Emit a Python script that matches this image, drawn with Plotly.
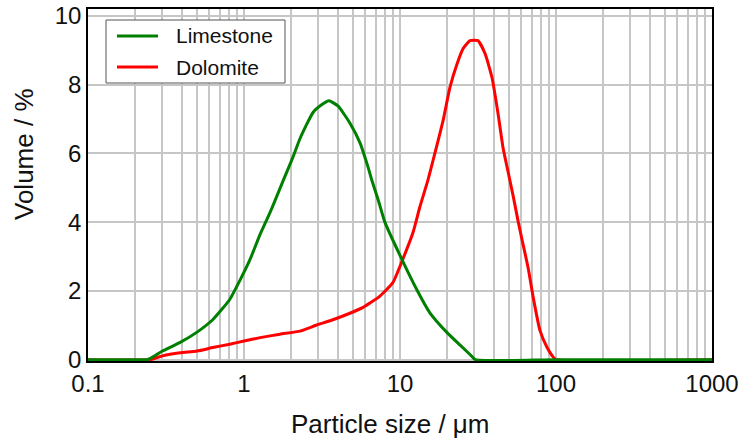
import plotly.graph_objects as go

# Particle size (µm) and volume (%)
limestone_size = [0.1, 0.2, 0.24, 0.27, 0.30, 0.39, 0.5, 0.63, 0.81, 0.94, 1.09, 1.27, 1.40, 1.51,
                  1.78, 2.06, 2.29, 2.77, 3.16, 3.5, 4.0, 4.79, 5.55, 6.24, 6.6, 7.3, 8.0, 10.3,
                  12.8, 15.5, 19.9, 24.3, 28.1, 30.4, 100, 1000]
limestone_vol = [0, 0, 0, 0.12, 0.25, 0.5, 0.8, 1.16, 1.75, 2.3, 2.9, 3.65, 4.07, 4.41,
                 5.2, 5.89, 6.44, 7.19, 7.42, 7.53, 7.38, 6.87, 6.3, 5.6, 5.22, 4.6, 4.0, 2.91,
                 2.04, 1.37, 0.8, 0.42, 0.15, 0, 0, 0]

dolomite_size = [0.1, 0.25, 0.30, 0.39, 0.5, 0.63, 0.81, 1.0, 1.27, 1.7, 2.29, 2.9, 3.56, 4.6,
                 5.8, 7.4, 9.0, 10.4, 12.1, 13.4, 15.1, 16.3, 18.9, 20.9, 23.2, 25.4, 28.1,
                 31.6, 35.1, 38.9, 42.5, 45.7, 49.1, 53.2, 57.3, 60.5, 66.4, 71.5, 78.9, 87.5,
                 95, 100, 1000]
dolomite_vol = [0, 0, 0.11, 0.2, 0.25, 0.35, 0.45, 0.54, 0.64, 0.74, 0.83, 1.0, 1.13, 1.32,
                1.52, 1.84, 2.24, 2.91, 3.69, 4.44, 5.22, 5.8, 6.96, 7.92, 8.6, 9.05, 9.28,
                9.28, 8.9, 8.2, 7.16, 6.18, 5.5, 4.75, 4.0, 3.5, 2.65, 1.8, 0.85, 0.36,
                0.1, 0, 0]

series_names = ["Limestone", "Dolomite"]
series_colors = ["#008000", "#ff0000"]

x_title = "Particle size / μm"
y_title = "Volume / %"
x_tick_vals = [0.1, 1, 10, 100, 1000]
x_tick_text = ["0.1", "1", "10", "100", "1000"]
y_tick_vals = [0, 2, 4, 6, 8, 10]

minor_vals = [m * 10 ** k for k in range(-1, 3) for m in range(2, 10)]

FONT = "Liberation Sans, Arial, sans-serif"
GRID = "#c6c6c6"
TXT = "#111111"

# plot area in pixels (for placing the hand-drawn legend box and titles)
L, R, T, B = 88, 712, 9, 361
W, H = R - L, B - T


def px(xp):
    return (xp - L) / W


def py(yp):
    return (B - yp) / H


fig = go.Figure()
fig.add_trace(go.Scatter(x=dolomite_size, y=dolomite_vol, mode="lines", name=series_names[1],
                         line=dict(color=series_colors[1], width=3, shape="spline", smoothing=0.5),
                         showlegend=False))
fig.add_trace(go.Scatter(x=limestone_size, y=limestone_vol, mode="lines", name=series_names[0],
                         line=dict(color=series_colors[0], width=3, shape="spline", smoothing=0.5),
                         showlegend=False))

# legend box
shapes = [dict(type="rect", xref="paper", yref="paper",
               x0=px(106), x1=px(285), y0=py(83), y1=py(20),
               line=dict(color="#555555", width=1), fillcolor="white", layer="above")]
annotations = []
for i, (name, col) in enumerate(zip(series_names, series_colors)):
    yc = 36 + 31 * i
    shapes.append(dict(type="line", xref="paper", yref="paper",
                       x0=px(117), x1=px(158), y0=py(yc), y1=py(yc),
                       line=dict(color=col, width=3), layer="above"))
    annotations.append(dict(xref="paper", yref="paper", x=px(174), y=py(yc),
                            xanchor="left", yanchor="middle", showarrow=False,
                            text=name, font=dict(size=21, family=FONT, color=TXT)))

# axis titles
annotations.append(dict(xref="paper", yref="paper", x=px(390), y=py(424),
                        xanchor="center", yanchor="middle", showarrow=False,
                        text=x_title, font=dict(size=26, family=FONT, color=TXT)))
annotations.append(dict(xref="paper", yref="paper", x=px(24), y=py(154),
                        xanchor="center", yanchor="middle", showarrow=False, textangle=-90,
                        text=y_title, font=dict(size=26, family=FONT, color=TXT)))

fig.update_layout(
    width=740, height=443,
    margin=dict(l=L, r=740 - R, t=T, b=443 - B),
    paper_bgcolor="white", plot_bgcolor="white",
    font=dict(family=FONT, size=24, color=TXT),
    showlegend=False,
    shapes=shapes,
    annotations=annotations,
    xaxis=dict(type="log", range=[-1, 3], tickmode="array",
               tickvals=x_tick_vals, ticktext=x_tick_text,
               tickfont=dict(size=24), automargin=False,
               showgrid=True, gridcolor=GRID, gridwidth=1.5,
               minor=dict(tickmode="array", tickvals=minor_vals, showgrid=True,
                          gridcolor=GRID, gridwidth=1.5, ticks=""),
               showline=True, linecolor="black", linewidth=1.5, mirror=True,
               ticks="", zeroline=False, layer="below traces"),
    yaxis=dict(range=[-0.04, 10.2], tickvals=y_tick_vals,
               tickfont=dict(size=24), automargin=False,
               showgrid=True, gridcolor=GRID, gridwidth=1.5,
               showline=True, linecolor="black", linewidth=1.5, mirror=True,
               ticks="", zeroline=False, layer="below traces"),
)

fig.write_html("out.html")
